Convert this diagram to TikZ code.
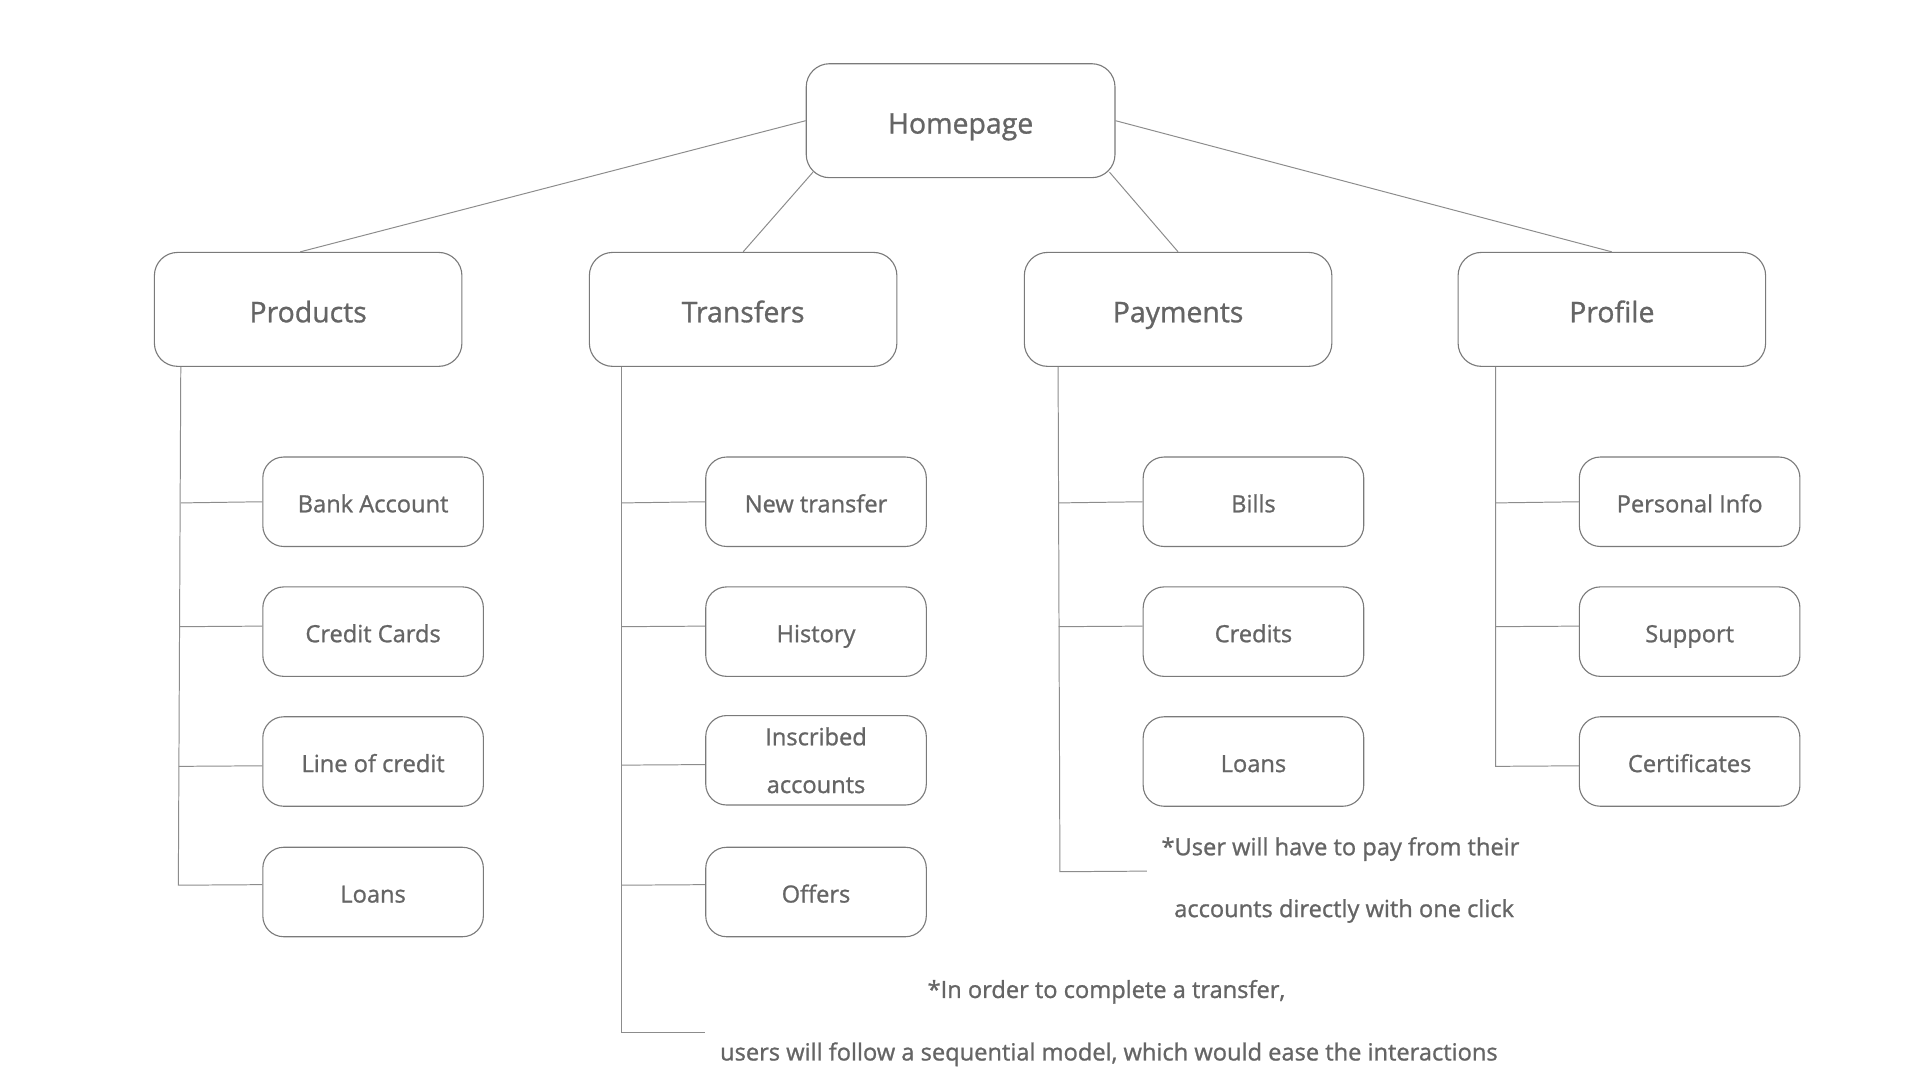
\documentclass[tikz,border=0pt]{standalone}
\usepackage{fontspec}
\setmainfont{Open Sans}[FakeBold=1.0]
\newfontfamily\boldish{Open Sans}[FakeBold=1.0]
\usetikzlibrary{calc}
\definecolor{txtgray}{HTML}{656565}
\definecolor{boxgray}{HTML}{7A7A7A}
\definecolor{linegray}{HTML}{8C8C8C}
\tikzset{
  topbox/.style={draw=boxgray, line width=0.9pt, rounded corners=19pt, minimum width=252pt, minimum height=93pt, text=txtgray, font=\boldish\fontsize{23.2}{26}\selectfont, inner sep=0pt, text height=21pt, text depth=0pt},
  subbox/.style={draw=boxgray, line width=0.9pt, rounded corners=17pt, minimum width=180pt, minimum height=73pt, text=txtgray, font=\boldish\fontsize{19.3}{22}\selectfont, inner sep=0pt, align=center},
  sublabel/.style={subbox, text height=17.2pt, text depth=0pt},
  note/.style={text=txtgray, font=\boldish\fontsize{19.3}{22}\selectfont, inner sep=0pt, anchor=base},
  conn/.style={draw=linegray, line width=0.8pt}
}
\begin{document}
\begin{tikzpicture}[x=1pt,y=-1pt]
\useasboundingbox[fill=white] (0,0) rectangle (1567,881.4);
% top
\node[topbox] (home) at (784,98.5) {Homepage};
\node[topbox, minimum width=251pt] (prod) at (251.5,252.5) {Products};
\node[topbox, minimum width=251pt] (trans) at (606.5,252.5) {Transfers};
\node[topbox, minimum width=251pt] (pay) at (961.5,252.5) {Payments};
\node[topbox, minimum width=251pt] (prof) at (1315.5,252.5) {Profile};
% products
\node[sublabel] (p1) at (304.5,409.5) {Bank Account};
\node[sublabel] (p2) at (304.5,515.5) {Credit Cards};
\node[sublabel] (p3) at (304.5,621.5) {Line of credit};
\node[sublabel] (p4) at (304.5,728) {Loans};
% transfers
\node[sublabel] (t1) at (666,409.5) {New transfer};
\node[sublabel] (t2) at (666,515.5) {History};
\node[subbox, font=\boldish\fontsize{19.3}{39}\selectfont] (t3) at (666,620.5) {Inscribed\\accounts};
\node[sublabel] (t4) at (666,728) {Offers};
% payments
\node[sublabel] (y1) at (1023,409.5) {Bills};
\node[sublabel] (y2) at (1023,515.5) {Credits};
\node[sublabel] (y3) at (1023,621.5) {Loans};
% profile
\node[sublabel] (r1) at (1379,409.5) {Personal Info};
\node[sublabel] (r2) at (1379,515.5) {Support};
\node[sublabel] (r3) at (1379,621.5) {Certificates};
% notes
\node[note] (n1) at (1094,698) {*User will have to pay from their};
\node[note] (n2) at (1097,748.5) {accounts directly with one click};
\node[note] (n3) at (903,814.5) {*In order to complete a transfer,};
\node[note] (n4) at (905,865.5) {users will follow a sequential model, which would ease the interactions};
% top connectors
\draw[conn] (home.west) -- ($(prod.north)+(-6.5,0)$);
\draw[conn] ($(home.south west)+(6,-5)$) -- (trans.north);
\draw[conn] ($(home.south east)+(-5,-5)$) -- (pay.north);
\draw[conn] (home.east) -- (prof.north);
% products tree
\coordinate (pa) at ($(prod.south west)+(22,0)$);
\coordinate (pz) at ($(pa)+(-2,423)$);
\draw[conn] (pa) -- (pz) -- ($(p4.west)+(0,-6)$);
\draw[conn] ($(pa)+(0,111)$) -- (p1.west);
\draw[conn] ($(pa)+(-0.5,212)$) -- ($(p2.west)+(0,-4.5)$);
\draw[conn] ($(pa)+(-1.5,326)$) -- ($(p3.west)+(0,3.5)$);
% transfers tree
\coordinate (ta) at ($(trans.south west)+(27,0)$);
\coordinate (tz) at ($(ta)+(0,543)$);
\coordinate (tend) at ($(tz)+(68,0)$);
\draw[conn] (ta) -- (tz) -- (tend);
\draw[conn] ($(ta)+(0,111)$) -- (t1.west);
\draw[conn] ($(ta)+(0,212)$) -- ($(t2.west)+(0,-4.5)$);
\draw[conn] ($(ta)+(0,325)$) -- ($(t3.west)+(0,3.5)$);
\draw[conn] ($(ta)+(0,423)$) -- ($(t4.west)+(0,-6)$);
% payments tree
\coordinate (ya) at ($(pay.south west)+(28,0)$);
\coordinate (yz) at ($(ya)+(1.5,412)$);
\coordinate (yend) at ($(yz)+(71,-0.5)$);
\draw[conn] (ya) -- (yz) -- (yend);
\draw[conn] ($(ya)+(0,111)$) -- (y1.west);
\draw[conn] ($(ya)+(0.5,212)$) -- ($(y2.west)+(0,-4.5)$);
% profile tree
\coordinate (ra) at ($(prof.south west)+(31,0)$);
\coordinate (rz) at ($(ra)+(0,326)$);
\draw[conn] (ra) -- (rz) -- ($(r3.west)+(0,3.5)$);
\draw[conn] ($(ra)+(0,111)$) -- (r1.west);
\draw[conn] ($(ra)+(0,212)$) -- ($(r2.west)+(0,-4.5)$);
\end{tikzpicture}
\end{document}
